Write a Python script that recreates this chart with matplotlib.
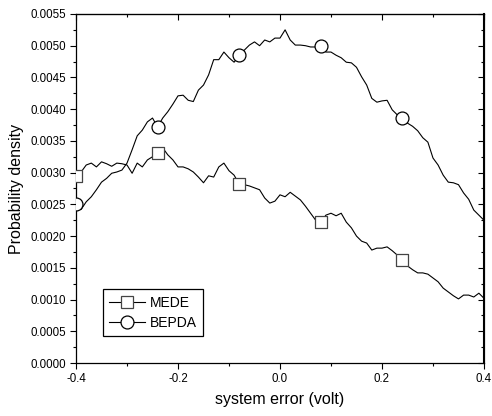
import numpy as np
import matplotlib.pyplot as plt
from matplotlib.lines import Line2D

plt.rcParams['font.family'] = ['Liberation Sans', 'DejaVu Sans']

# system error (volt), one reading every 0.01
x = np.round(np.arange(-0.4, 0.4001, 0.01), 2)

mede = [0.00295, 0.00301, 0.00312, 0.00315, 0.00309, 0.00317, 0.00314, 0.00310, 0.00315, 0.00314,
        0.00312, 0.00299, 0.00315, 0.00309, 0.00320, 0.00325, 0.00331, 0.00339, 0.00328, 0.00320,
        0.00309, 0.00309, 0.00306, 0.00301, 0.00293, 0.00284, 0.00295, 0.00293, 0.00309, 0.00315,
        0.00303, 0.00296, 0.00282, 0.00281, 0.00279, 0.00276, 0.00273, 0.00260, 0.00252, 0.00255,
        0.00265, 0.00262, 0.00269, 0.00263, 0.00257, 0.00247, 0.00236, 0.00225, 0.00222, 0.00233,
        0.00236, 0.00232, 0.00236, 0.00222, 0.00213, 0.00200, 0.00192, 0.00189, 0.00178, 0.00181,
        0.00181, 0.00183, 0.00177, 0.00170, 0.00162, 0.00153, 0.00147, 0.00142, 0.00142, 0.00140,
        0.00134, 0.00128, 0.00118, 0.00112, 0.00106, 0.00101, 0.00107, 0.00107, 0.00104, 0.00110,
        0.00102]

bepda = [0.00250, 0.00242, 0.00254, 0.00262, 0.00273, 0.00285, 0.00291, 0.00299, 0.00301, 0.00304,
         0.00315, 0.00336, 0.00358, 0.00367, 0.00380, 0.00386, 0.00372, 0.00386, 0.00396, 0.00408,
         0.00421, 0.00422, 0.00414, 0.00412, 0.00430, 0.00438, 0.00454, 0.00478, 0.00478, 0.00490,
         0.00481, 0.00474, 0.00485, 0.00493, 0.00501, 0.00506, 0.00500, 0.00509, 0.00506, 0.00512,
         0.00512, 0.00525, 0.00509, 0.00501, 0.00501, 0.00500, 0.00498, 0.00498, 0.00500, 0.00490,
         0.00490, 0.00485, 0.00481, 0.00474, 0.00473, 0.00466, 0.00451, 0.00438, 0.00417, 0.00411,
         0.00413, 0.00414, 0.00399, 0.00391, 0.00386, 0.00378, 0.00373, 0.00366, 0.00355, 0.00348,
         0.00323, 0.00312, 0.00296, 0.00285, 0.00284, 0.00281, 0.00268, 0.00258, 0.00241, 0.00233,
         0.00225]

# a symbol every 16 readings, none on the last one
marks = list(range(0, len(x) - 1, 16))

fig = plt.figure(figsize=(4.92, 4.16), dpi=100)
ax = fig.add_axes([0.1545, 0.1274, 0.8292, 0.8390])

ax.plot(x, mede, color='black', lw=0.8)
ax.plot(x, bepda, color='black', lw=0.8)
# symbols as scatter so the ones on the frame edge get cut in half
ax.scatter(x[marks], np.array(mede)[marks], marker='s', s=8.7 ** 2, facecolors='white',
           edgecolors='#444444', linewidths=0.9, zorder=3)
ax.scatter(x[marks], np.array(bepda)[marks], marker='o', s=9.3 ** 2, facecolors='white',
           edgecolors='black', linewidths=0.9, zorder=3)

ax.set_xlim(-0.4, 0.4)
ax.set_ylim(0, 0.0055)
ax.set_xticks([-0.4, -0.2, 0.0, 0.2, 0.4])
ax.set_xticks([-0.3, -0.1, 0.1, 0.3], minor=True)
ax.set_yticks(np.arange(0, 0.00551, 0.0005))
ax.set_yticks(np.arange(0.00025, 0.0055, 0.0005), minor=True)
ax.set_xticklabels(['-0.4', '-0.2', '0.0', '0.2', '0.4'])
ax.set_yticklabels([f'{v:.4f}' for v in np.arange(0, 0.00551, 0.0005)])
ax.tick_params(which='major', direction='out', length=4.5, width=0.8, labelsize=8.3, pad=2.5)
ax.tick_params(which='minor', direction='out', length=2.5, width=0.8)

# mirrored ticks pointing inwards on top and right
top = ax.secondary_xaxis('top')
top.set_xticks([-0.4, -0.2, 0.0, 0.2, 0.4])
top.set_xticks([-0.3, -0.1, 0.1, 0.3], minor=True)
top.tick_params(which='major', direction='in', length=4.5, width=0.8, labeltop=False)
top.tick_params(which='minor', direction='in', length=2.5, width=0.8)
right = ax.secondary_yaxis('right')
right.set_yticks(np.arange(0, 0.00551, 0.0005))
right.set_yticks(np.arange(0.00025, 0.0055, 0.0005), minor=True)
right.tick_params(which='major', direction='in', length=4.5, width=0.8, labelright=False)
right.tick_params(which='minor', direction='in', length=2.5, width=0.8)

for s in ax.spines.values():
    s.set_linewidth(0.9)
ax.spines['right'].set_linewidth(1.5)

ax.set_xlabel('system error (volt)', fontsize=11.5, labelpad=5)
ax.set_ylabel('Probability density', fontsize=11.5, labelpad=5)

handles = [
    Line2D([], [], color='black', lw=0.8, marker='s', ms=8.7, mfc='white', mec='#444444', mew=0.9),
    Line2D([], [], color='black', lw=0.8, marker='o', ms=9.3, mfc='white', mec='black', mew=0.9),
]
leg = ax.legend(handles, ['MEDE', 'BEPDA'], loc='lower left', bbox_to_anchor=(0.066, 0.077),
                borderaxespad=0, fontsize=10, frameon=True, fancybox=False, edgecolor='black',
                framealpha=1, handlelength=2.6, handletextpad=0.3, borderpad=0.45, labelspacing=0.45)
leg.get_frame().set_linewidth(0.9)

fig.savefig('out.png', dpi=100)
